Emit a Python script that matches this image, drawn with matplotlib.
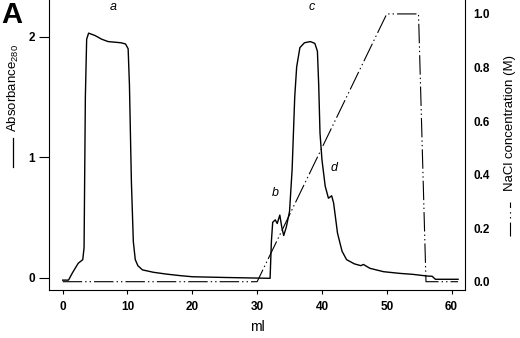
"""
Cromatograma: absorbancia a 280 nm y gradiente de NaCl.
"""

import matplotlib
matplotlib.use("Agg")
import matplotlib.pyplot as plt
from matplotlib.lines import Line2D

plt.rcParams["font.family"] = ["Liberation Sans", "DejaVu Sans"]
plt.rcParams["mathtext.fontset"] = "custom"
plt.rcParams["mathtext.rm"] = "Liberation Sans"
plt.rcParams["mathtext.it"] = "Liberation Sans:italic"
plt.rcParams["lines.scale_dashes"] = False

# absorbancia (ml, A280)
vol_abs = [0, 0.9, 1.5, 2.4, 3.1, 3.3, 3.5, 3.7, 4.0, 5.0, 6.0, 7.0, 8.0, 9.0, 9.7,
           10.1, 10.3, 10.6, 10.9, 11.2, 11.6, 12.3, 14, 16, 18, 20, 25, 30, 32.0,
           32.2, 32.4, 32.8, 33.1, 33.5, 33.8, 34.1, 34.5, 35.0, 35.4, 35.8, 36.1,
           36.6, 37.3, 38.2, 38.9, 39.3, 39.5, 39.7, 40.0, 40.5, 41.0, 41.5, 41.8,
           42.4, 43.1, 43.8, 45.0, 46.0, 46.4, 47.4, 49.5, 52, 54, 56.2, 57.0, 57.5, 61.0]
absorb = [-0.02, -0.02, 0.04, 0.12, 0.15, 0.25, 1.5, 1.98, 2.03, 2.01, 1.98, 1.96, 1.955,
          1.95, 1.94, 1.90, 1.6, 0.8, 0.3, 0.15, 0.10, 0.065, 0.045, 0.03, 0.018, 0.008,
          0.002, -0.003, -0.005, 0.3, 0.46, 0.48, 0.45, 0.52, 0.42, 0.35, 0.42, 0.55,
          0.9, 1.5, 1.75, 1.91, 1.95, 1.96, 1.945, 1.88, 1.6, 1.2, 0.98, 0.76, 0.66,
          0.68, 0.62, 0.37, 0.22, 0.15, 0.115, 0.10, 0.11, 0.078, 0.05, 0.036, 0.028,
          0.014, 0.012, -0.013, -0.013]

# gradiente NaCl (ml, M)
vol_nacl = [0, 30, 50, 54.9, 56.05, 61]
nacl = [0, 0, 1.0, 1.0, 0.0, 0.0]

# etiquetas de picos
picos = ["a", "b", "c", "d"]
picos_x = [7.8, 32.8, 38.4, 41.8]
picos_y = [2.25, 0.70, 2.25, 0.91]

ESTILO_NACL = (0, (14, 2.2, 1, 2.2, 1, 2.2))

fig = plt.figure(figsize=(5.2, 3.38), dpi=100)
ax = fig.add_axes([49 / 520, 48 / 338, 416 / 520, 290 / 338])
ax2 = ax.twinx()

ax.plot(vol_abs, absorb, color="black", lw=1.0)
ax2.plot(vol_nacl, nacl, color="black", lw=0.8, linestyle=ESTILO_NACL)

ax.set_xlim(-2.11, 62.07)
ax.set_ylim(-0.102, 2.305)
ax2.set_ylim(-0.031, 1.052)

ax.set_xticks(range(0, 61, 10))
ax.set_yticks([0, 1, 2])
ax2.set_yticks([0.0, 0.2, 0.4, 0.6, 0.8, 1.0])
ax2.set_yticklabels([f"{v:.1f}" for v in [0.0, 0.2, 0.4, 0.6, 0.8, 1.0]])

ax.tick_params(axis="x", length=3, width=0.8, pad=5, labelsize=8.5)
ax.tick_params(axis="y", length=7, width=0.8, pad=3, labelsize=8.5)
ax2.tick_params(axis="y", length=0, pad=6, labelsize=8.5)
for lbl in ax.get_xticklabels() + ax.get_yticklabels() + ax2.get_yticklabels():
    lbl.set_fontweight("bold")

for s in ["top", "right"]:
    ax.spines[s].set_visible(False)
for s in ["top", "left", "bottom"]:
    ax2.spines[s].set_visible(False)
for a in (ax, ax2):
    for s in a.spines.values():
        s.set_linewidth(0.8)

for t, x, y in zip(picos, picos_x, picos_y):
    ax.text(x, y, t, style="italic", fontsize=9, ha="center", va="center")

# etiquetas de ejes con su muestra de línea
fig.text(257 / 520, 1 - 327 / 338, "ml", ha="center", va="center", fontsize=10)
fig.text(13 / 520, 1 - 88 / 338, "Absorbance$_{\\mathregular{280}}$", rotation=90,
         ha="center", va="center", fontsize=9.5)
fig.add_artist(Line2D([13 / 520, 13 / 520], [1 - 167 / 338, 1 - 138 / 338],
                      color="black", lw=0.9, transform=fig.transFigure))
fig.text(510 / 520, 1 - 123 / 338, "NaCl concentration (M)", rotation=90,
         ha="center", va="center", fontsize=9.5)
fig.add_artist(Line2D([510 / 520, 510 / 520], [1 - 236 / 338, 1 - 202 / 338],
                      color="black", lw=0.8, linestyle=(0, (10, 3, 1, 2.5, 1, 3, 10)),
                      transform=fig.transFigure))
fig.text(1 / 520, 1 - 15 / 338, "A", fontsize=21, fontweight="bold", ha="left", va="center")

fig.savefig("out.png", dpi=100)
